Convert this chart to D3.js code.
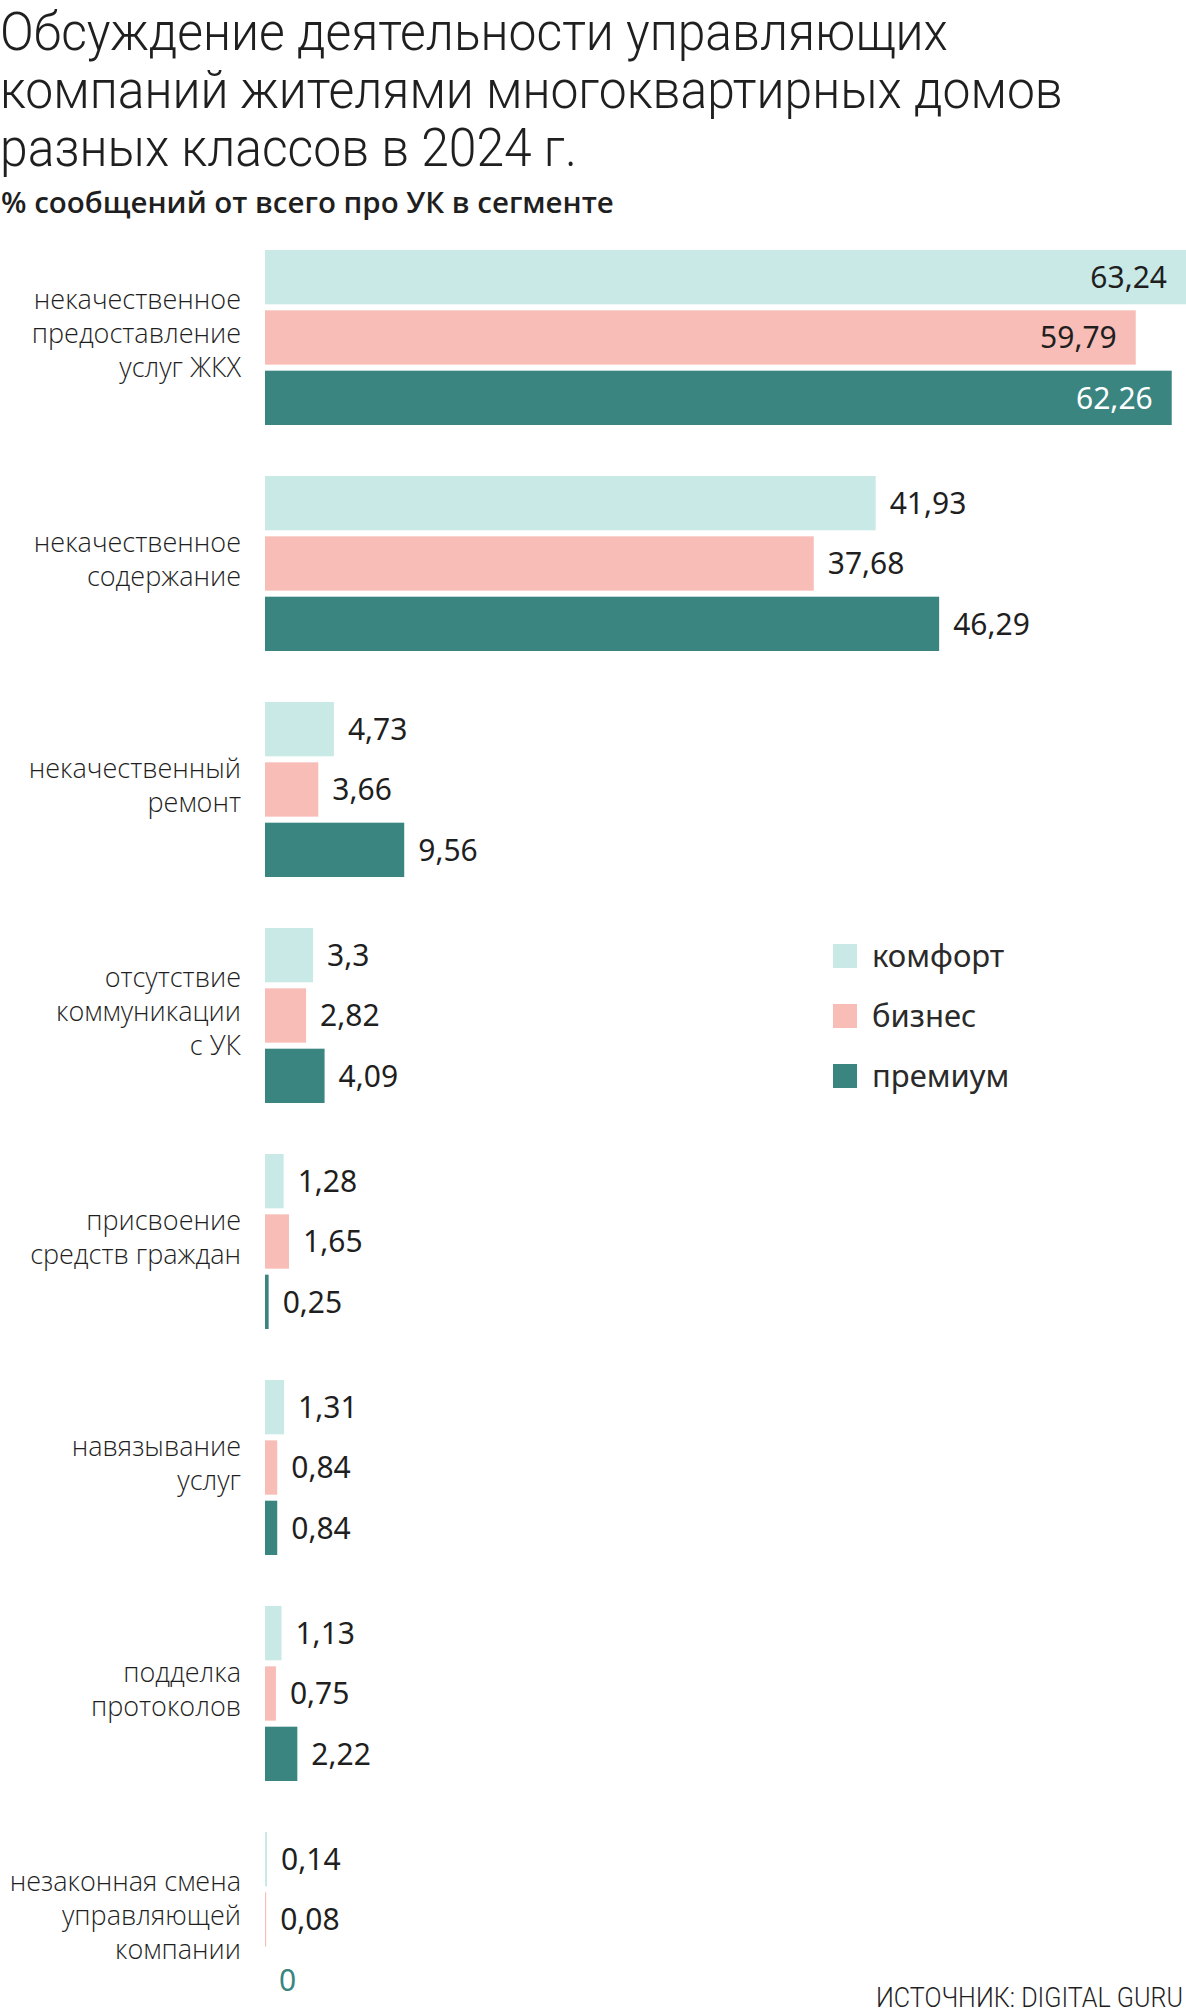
<!DOCTYPE html>
<html>
<head>
<meta charset="utf-8">
<script src="https://cdn.jsdelivr.net/npm/d3@7"></script>
<style>
  body { margin: 0; background: #fff; }
  svg text { fill: #1f1f1f; }
</style>
</head>
<body>
<svg id="chart" width="1186" height="2015"></svg>
<script>
// data
let titleLines = ['Обсуждение деятельности управляющих', 'компаний жителями многоквартирных домов', 'разных классов в 2024 г.']
let subtitle = '% сообщений от всего про УК в сегменте'
let source = 'ИСТОЧНИК: DIGITAL GURU'

let categories = [
  ['некачественное', 'предоставление', 'услуг ЖКХ'],
  ['некачественное', 'содержание'],
  ['некачественный', 'ремонт'],
  ['отсутствие', 'коммуникации', 'с УК'],
  ['присвоение', 'средств граждан'],
  ['навязывание', 'услуг'],
  ['подделка', 'протоколов'],
  ['незаконная смена', 'управляющей', 'компании']
]
let seriesNames = ['комфорт', 'бизнес', 'премиум']
let komfort = [63.24, 41.93, 4.73, 3.3, 1.28, 1.31, 1.13, 0.14]
let biznes = [59.79, 37.68, 3.66, 2.82, 1.65, 0.84, 0.75, 0.08]
let premium = [62.26, 46.29, 9.56, 4.09, 0.25, 0.84, 2.22, 0]

let colors = ['#c8e9e6', '#f8bdb7', '#3a857f']
let allSeries = [komfort, biznes, premium]

let svg = d3.select('#chart')

// title block (font is squeezed a little, the original uses a narrow light face)
let titleG = svg.append('g').attr('transform', 'scale(0.94,1)')
titleG.selectAll('.title')
   .data(titleLines)
   .enter()
   .append('text')
   .attr('class', 'title')
   .attr('x', 0)
   .attr('y', (d, i) => 50 + i * 58)
   .style('font-family', 'Roboto')
   .style('font-weight', 300)
   .style('font-size', '53px')
   .text(d => d)

svg.append('text')
   .attr('x', 1)
   .attr('y', 213)
   .style('font-family', '"Open Sans"')
   .style('font-weight', 600)
   .style('font-size', '29.5px')
   .text(subtitle)

// scales
let x = d3.scaleLinear()
          .domain([0, d3.max(allSeries.flat())])
          .range([265, 1186])

let y0 = d3.scaleBand()
           .domain(d3.range(categories.length))
           .range([250, 2007])
           .paddingInner(0.2257)

let y1 = d3.scaleBand()
           .domain(d3.range(seriesNames.length))
           .range([0, y0.bandwidth()])
           .paddingInner(0.1)

let groups = svg.selectAll('.group')
                .data(categories)
                .enter()
                .append('g')
                .attr('class', 'group')
                .attr('transform', (d, i) => 'translate(0,' + y0(i) + ')')

// category labels, right aligned next to the bars
groups.each(function (lines) {
  let g = d3.select(this)
  let mid = y0.bandwidth() / 2 + 6
  g.selectAll('.cat')
   .data(lines)
   .enter()
   .append('text')
   .attr('class', 'cat')
   .attr('x', 241)
   .attr('y', (d, j) => mid + (j - (lines.length - 1) / 2) * 34)
   .attr('text-anchor', 'end')
   .style('font-family', '"Open Sans"')
   .style('font-weight', 300)
   .style('font-size', '27px')
   .text(d => d)
})

// bars + values
groups.each(function (lines, i) {
  let g = d3.select(this)
  let rows = allSeries.map((s, k) => ({ k: k, v: s[i] }))

  g.selectAll('rect')
   .data(rows)
   .enter()
   .append('rect')
   .attr('x', x(0))
   .attr('y', d => y1(d.k))
   .attr('width', d => x(d.v) - x(0))
   .attr('height', y1.bandwidth())
   .attr('fill', d => colors[d.k])

  g.selectAll('.val')
   .data(rows)
   .enter()
   .append('text')
   .attr('class', 'val')
   .attr('y', d => y1(d.k) + y1.bandwidth() / 2 + 11)
   .style('font-family', '"Noto Sans"')
   .style('font-size', '30px')
   .text(d => String(d.v).replace('.', ','))
   .each(function (d) {
     let t = d3.select(this)
     let w = this.getComputedTextLength()
     let end = x(d.v)
     if (end + 12 + w > 1186) {
       // does not fit on the right, so it goes inside the bar
       t.attr('x', end - 19).attr('text-anchor', 'end')
       if (d.k == 2) t.style('fill', '#fff')
     } else {
       t.attr('x', end + 14)
       if (d.v == 0) t.style('fill', colors[2])
     }
   })
})

// legend
let legend = svg.selectAll('.legend')
                .data(seriesNames)
                .enter()
                .append('g')
                .attr('class', 'legend')
                .attr('transform', (d, i) => 'translate(833,' + (944 + i * 60) + ')')

legend.append('rect')
      .attr('width', 24)
      .attr('height', 24)
      .attr('fill', (d, i) => colors[i])

legend.append('text')
      .attr('x', 39)
      .attr('y', 23)
      .style('font-family', '"Noto Sans"')
      .style('font-size', '31px')
      .style('fill', '#2a2a2a')
      .text(d => d)

svg.append('text')
   .attr('x', 1183)
   .attr('y', 2007)
   .attr('text-anchor', 'end')
   .attr('transform', 'translate(1183,0) scale(0.93,1) translate(-1183,0)')
   .style('font-family', 'Roboto')
   .style('font-weight', 300)
   .style('font-size', '27px')
   .text(source)
</script>
</body>
</html>
